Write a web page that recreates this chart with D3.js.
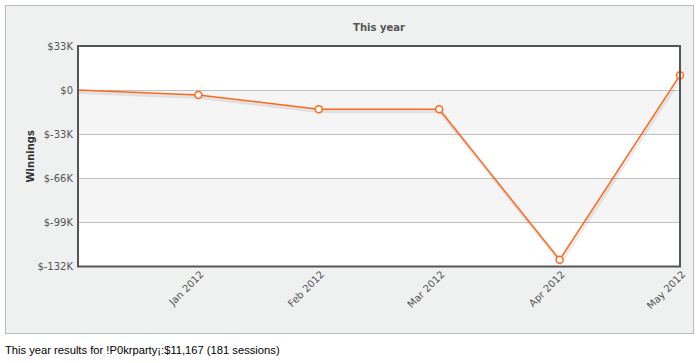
<!DOCTYPE html>
<html><head><meta charset="utf-8">
<script src="https://cdn.jsdelivr.net/npm/d3@7"></script>
<style>
body{margin:0;background:#fff;}
svg{display:block;}
</style></head>
<body>
<svg id="c" width="700" height="363"></svg>
<script>
const categories = ["", "Jan 2012", "Feb 2012", "Mar 2012", "Apr 2012", "May 2012"];
const winnings = [0, -3600, -14400, -14400, -127000, 11167];
const yTicks = [33000, 0, -33000, -66000, -99000, -132000];
const title = "This year";
const yTitle = "Winnings";
const footer = "This year results for !P0krparty\u00a1:$11,167 (181 sessions)";

const svg = d3.select("#c");
const box = {x:5.5, y:5.5, w:688, h:328};
const m = {l:78, t:46, r:680, b:266.5};

svg.append("rect").attr("x",box.x).attr("y",box.y).attr("width",box.w).attr("height",box.h)
  .attr("fill","#eff0f0").attr("stroke","#bbbbbb").attr("stroke-width",1);

const x = d3.scalePoint().domain(d3.range(categories.length)).range([m.l, m.r]);
const y = d3.scaleLinear().domain([-132000, 33000]).range([m.b, m.t]);

svg.append("rect").attr("x",m.l).attr("y",m.t).attr("width",m.r-m.l).attr("height",m.b-m.t).attr("fill","#fff");

// alternating bands
const bands = [[0,-33000],[-66000,-99000]];
svg.append("g").selectAll("rect").data(bands).join("rect")
  .attr("x",m.l).attr("width",m.r-m.l)
  .attr("y",d=>y(d[0])).attr("height",d=>y(d[1])-y(d[0]))
  .attr("fill","#f5f5f5");

// grid
svg.append("g").selectAll("line").data(yTicks.slice(1,-1)).join("line")
  .attr("x1",m.l).attr("x2",m.r).attr("y1",d=>Math.round(y(d))+0.5).attr("y2",d=>Math.round(y(d))+0.5)
  .attr("stroke","#c0c0c0").attr("stroke-width",1);

// y axis labels
const fmt = v => v===0 ? "$0" : "$" + (v<0?"-":"") + Math.abs(v/1000) + "K";
const ya = svg.append("g").attr("transform",`translate(${m.l},0)`)
  .call(d3.axisLeft(y).tickValues(yTicks).tickFormat(fmt).tickSize(0).tickPadding(5));
ya.select(".domain").remove();
ya.selectAll("text").attr("font-family","DejaVu Sans, Verdana, sans-serif").attr("font-size","10px").attr("fill","#555");

// x axis labels
const xa = svg.append("g").attr("transform",`translate(0,${m.b})`)
  .call(d3.axisBottom(x).tickFormat(i=>categories[i]).tickSize(0));
xa.select(".domain").remove();
xa.selectAll("text")
  .attr("font-family","DejaVu Sans, Verdana, sans-serif").attr("font-size","10px").attr("fill","#555")
  .attr("text-anchor","end").attr("transform","translate(3,6) rotate(-45)").attr("dy","0.35em").attr("y",0);

// line shadow
const line = d3.line().x((d,i)=>x(i)).y(d=>y(d));
svg.append("path").datum(winnings).attr("d",line).attr("fill","none")
  .attr("stroke","rgba(0,0,0,0.08)").attr("stroke-width",4).attr("transform","translate(1,2)");
svg.append("path").datum(winnings).attr("d",line).attr("fill","none")
  .attr("stroke","#ff6a1a").attr("stroke-width",1.5);

svg.append("g").selectAll("circle").data(winnings.slice(1)).join("circle")
  .attr("cx",(d,i)=>x(i+1)).attr("cy",d=>y(d)).attr("r",3.5)
  .attr("fill","#fff").attr("stroke","#ff6a1a").attr("stroke-width",1.5);

// plot border
svg.append("rect").attr("x",m.l).attr("y",m.t).attr("width",m.r-m.l).attr("height",m.b-m.t)
  .attr("fill","none").attr("stroke","#555").attr("stroke-width",2);

// titles
svg.append("text").attr("x",(m.l+m.r)/2).attr("y",31).attr("text-anchor","middle")
  .attr("font-family","DejaVu Sans, Verdana, sans-serif").attr("font-size","10px").attr("font-weight","bold")
  .attr("fill","#555").text(title);
svg.append("text").attr("transform",`translate(34,${(m.t+m.b)/2}) rotate(-90)`).attr("text-anchor","middle")
  .attr("font-family","DejaVu Sans, Verdana, sans-serif").attr("font-size","10px").attr("font-weight","bold")
  .attr("fill","#333").text(yTitle);

svg.append("text").attr("x",5).attr("y",354)
  .attr("font-family","Liberation Sans, Arial, sans-serif").attr("font-size","11.2px").attr("fill","#000").text(footer);
</script>
</body></html>
